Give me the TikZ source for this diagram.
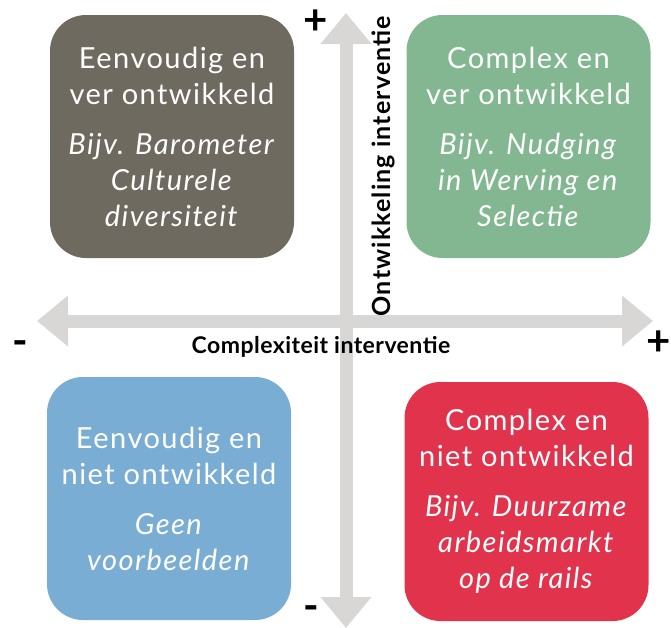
\documentclass[tikz,border=0pt]{standalone}
\usepackage{fontspec}
\setmainfont{Lato}
\usetikzlibrary{arrows.meta}
\definecolor{brownq}{HTML}{6F6A5F}
\definecolor{greenq}{HTML}{82B791}
\definecolor{blueq}{HTML}{79ADD4}
\definecolor{redq}{HTML}{E2334C}
\definecolor{axisgray}{HTML}{D9D7D5}
\tikzset{quad/.style={rounded corners=36pt, minimum width=244pt, minimum height=243pt, inner sep=0pt,
                      text=white, align=center, font=\fontsize{29}{36}\selectfont\addfontfeature{LetterSpace=5}},
         axis/.style={draw=axisgray, line width=13pt, {Triangle[width=49pt,length=31pt]}-{Triangle[width=49pt,length=31pt]}},
         axislabel/.style={font=\fontsize{23}{25}\selectfont\bfseries\addfontfeature{LetterSpace=2}},
         sign/.style={inner sep=0pt, font=\fontsize{42}{42}\selectfont\bfseries}}

\begin{document}
\begin{tikzpicture}[x=1pt,y=-1pt]
   \useasboundingbox (0,0) rectangle (671,627);
   % assen
   \coordinate (ytop) at (346,13);
   \coordinate (ybot) at (346,628);
   \coordinate (xleft) at (37,321);
   \coordinate (xright) at (653,321);
   \draw[axis] (ybot) -- (ytop);
   \draw[axis] (xleft) -- (xright);
   \node[axislabel] (xlab) at (321,347) {Complexiteit interventie};
   \node[axislabel,font=\fontsize{25}{27}\selectfont\bfseries\addfontfeature{LetterSpace=4.5},rotate=90] (ylab) at (383,166) {Ontwikkeling interventie};
   \node[sign] (yplus) at (316,22) {+};
   \node[sign] (yminus) at (311,613) {-};
   \node[sign] (xminus) at (20,348) {-};
   \node[sign] (xplus) at (659,343) {+};
   % kwadranten
   \node[quad,fill=brownq] (eenver) at (172,136.5)
        {Eenvoudig en\\ver ontwikkeld\\[14pt]\textit{Bijv. Barometer}\\\textit{Culturele}\\\textit{diversiteit}};
   \node[quad,fill=greenq] (compver) at (528.5,136.5)
        {Complex en\\ver ontwikkeld\\[14pt]\textit{Bijv. Nudging}\\\textit{in Werving en}\\\textit{Selectie}};
   \node[quad,fill=blueq] (eenniet) at (169,498.5)
        {Eenvoudig en\\niet ontwikkeld\\[14pt]\textit{Geen}\\\textit{voorbeelden}};
   \node[quad,fill=redq,minimum height=239pt] (compniet) at (526.5,501.5)
        {Complex en\\niet ontwikkeld\\[14pt]\textit{Bijv. Duurzame}\\\textit{arbeidsmarkt}\\\textit{op de rails}};
\end{tikzpicture}
\end{document}
